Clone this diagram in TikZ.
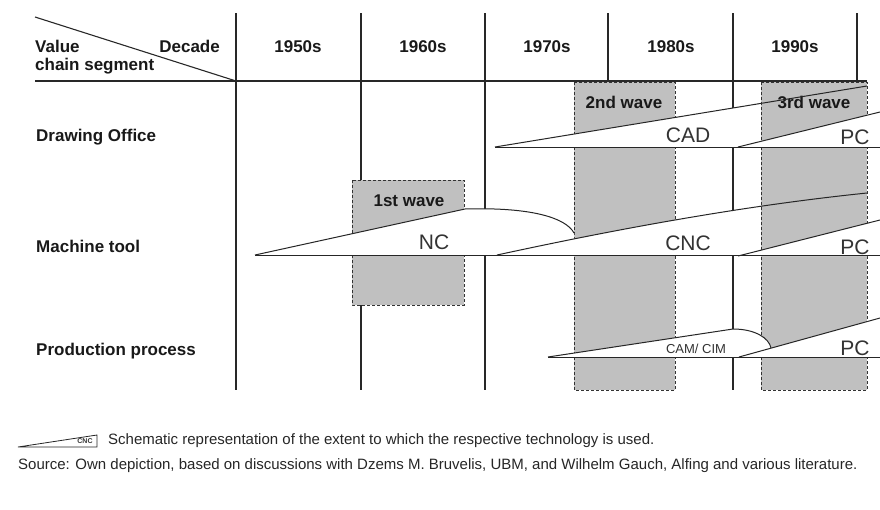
\documentclass[tikz,border=0pt]{standalone}
\usepackage{fontspec}
\setmainfont{Liberation Sans}
\usetikzlibrary{positioning}
\definecolor{wavegray}{RGB}{192,192,192}
\definecolor{linegray}{RGB}{40,40,40}
\tikzstyle{decline} = [draw=linegray, line width=1.1pt]
\tikzstyle{wave} = [draw=black!80, dash pattern=on 3pt off 2pt, fill=wavegray, line width=0.9pt]
\tikzstyle{wedgeline} = [draw=black!85, line width=1pt]
\tikzstyle{head} = [font=\bfseries\fontsize{17}{20}\selectfont, inner sep=0pt, text=black!90]
\tikzstyle{tech} = [font=\fontsize{21}{24}\selectfont, inner sep=0pt, text=black!80]
\tikzstyle{legendtext} = [font=\fontsize{15}{18}\selectfont, inner sep=0pt, anchor=west, text=black!85]

\begin{document}
\begin{tikzpicture}[x=1pt, y=-1pt]
  \useasboundingbox (0,0) rectangle (880,509);

  % Header and decade lines
  \draw[decline] (35,17) -- (236,81);
  \draw[decline] (35,81) -- (867,81);
  \foreach \x in {236,361,485,608,733,857}
    \draw[decline] (\x,13) -- (\x,390);

  \node[head, anchor=west] (value) at (35,46) {Value};
  \node[head, anchor=east] (decade) at (220,46) {Decade};
  \node[head, below=6pt of value.south west, anchor=north west] (chain) {chain segment};
  \foreach \dec/\x in {1950s/298, 1960s/423, 1970s/547, 1980s/671, 1990s/795}
    \node[head] (d\dec) at (\x,47) {\dec};

  % Value chain segments
  \node[head, anchor=west] (office) at (36,137) {Drawing Office};
  \node[head, anchor=west] (machine) at (36,246) {Machine tool};
  \node[head, anchor=west] (process) at (36,351) {Production process};

  % Waves
  \draw[wave] (352,180) rectangle (464,305);
  \draw[wave] (574,82) rectangle (675,390);
  \draw[wave] (761,82) rectangle (867,390);
  \node[head] (first) at (409,201) {1st wave};
  \node[head] (second) at (624,102) {2nd wave};
  \node[head] (third) at (814,102) {3rd wave};

  % Drawing Office: CAD, PC
  \begin{scope}
    \clip (0,0) rectangle (735,509);
    \fill[white] (495,147) -- (867,86) -- (867,147) -- cycle;
  \end{scope}
  \draw[wedgeline] (495,147) -- (867,86);
  \fill[white] (738,147) -- (880,112) -- (880,147) -- cycle;
  \draw[wedgeline] (738,147) -- (880,112);
  \draw[wedgeline] (495,147) -- (880,147);
  \node[tech] (cad) at (688,135) {CAD};
  \node[tech] (pcoffice) at (855,137) {PC};

  % Machine tool: NC, CNC, PC
  \fill[white] (255,255) -- (465,209) .. controls (532,207) and (566,218) .. (574,233) -- (574,255) -- cycle;
  \draw[wedgeline] (255,255) -- (465,209) .. controls (532,207) and (566,218) .. (574,233);
  \begin{scope}
    \clip (0,0) rectangle (735,509);
    \fill[white] (497,255) .. controls (640,224) and (760,204) .. (867,193) -- (867,255) -- cycle;
  \end{scope}
  \draw[wedgeline] (497,255) .. controls (640,224) and (760,204) .. (867,193);
  \fill[white] (738,256) -- (880,220) -- (880,256) -- cycle;
  \draw[wedgeline] (738,256) -- (880,220);
  \draw[wedgeline] (255,255) -- (880,255);
  \node[tech] (nc) at (434,242) {NC};
  \node[tech] (cnc) at (688,243) {CNC};
  \node[tech] (pcmachine) at (855,247) {PC};

  % Production process: CAM/CIM, PC
  \fill[white] (548,357) -- (733,329) .. controls (755,329) and (769,338) .. (771,348) -- (771,357) -- cycle;
  \draw[wedgeline] (548,357) -- (733,329) .. controls (755,329) and (769,338) .. (771,348);
  \fill[white] (739,357) -- (880,318) -- (880,357) -- cycle;
  \draw[wedgeline] (739,357) -- (880,318);
  \draw[wedgeline] (548,357) -- (880,357);
  \node[tech, font=\fontsize{13}{15}\selectfont] (camcim) at (696,349) {CAM/ CIM};
  \node[tech] (pcprocess) at (855,348) {PC};

  % Legend
  \coordinate (tip) at (18,447);
  \coordinate (top) at (97,435);
  \coordinate (corner) at (97,447);
  \draw[wedgeline, line width=0.8pt] (tip) -- (top) -- (corner) -- cycle;
  \node[font=\bfseries\fontsize{7}{8}\selectfont, inner sep=0pt, text=black!80] (iconcnc) at (85,441) {CNC};
  \node[legendtext] (legend) at (108,441) {Schematic representation of the extent to which the respective technology is used.};
  \node[legendtext] (source) at (18,466) {Source: Own depiction, based on discussions with Dzems M. Bruvelis, UBM, and Wilhelm Gauch, Alfing and various literature.};
\end{tikzpicture}
\end{document}
